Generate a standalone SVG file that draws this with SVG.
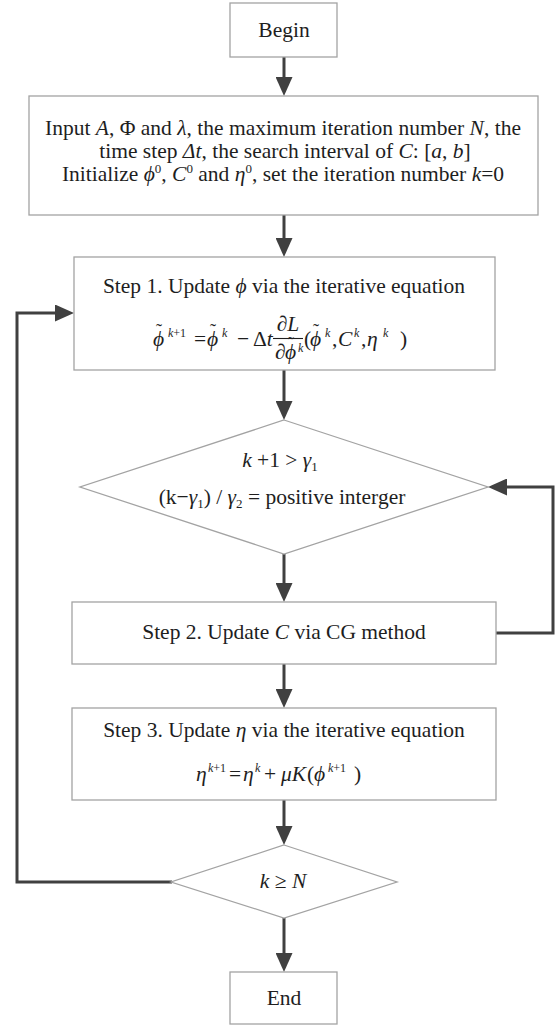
<svg xmlns="http://www.w3.org/2000/svg" width="558" height="1026" viewBox="0 0 558 1026">
<defs>
<style>
.box{fill:#ffffff;stroke:#a3a3a3;stroke-width:1.3}
.conn{fill:none;stroke:#404040;stroke-width:3}
text{font-family:"Liberation Serif","Times New Roman","DejaVu Serif",serif;font-size:21.5px;fill:#1e1e1e}
.i{font-style:italic}
.s{font-size:13px}
.e{font-size:12px}
.t{font-size:18px}
.m{text-anchor:middle}
.bar{stroke:#1e1e1e;stroke-width:1.1}
</style>
<marker id="ah" markerUnits="userSpaceOnUse" markerWidth="19" markerHeight="17" refX="9" refY="8.5" orient="auto">
<path d="M0,0 L19,8.5 L0,17 Z" fill="#404040"/>
</marker>
</defs>
<rect width="558" height="1026" fill="#ffffff"/>

<g id="connectors">
<path class="conn" d="M284,57 V86" marker-end="url(#ah)"/>
<path class="conn" d="M284,215 V247" marker-end="url(#ah)"/>
<path class="conn" d="M284,370 V410" marker-end="url(#ah)"/>
<path class="conn" d="M284,554 V592" marker-end="url(#ah)"/>
<path class="conn" d="M284,664 V698" marker-end="url(#ah)"/>
<path class="conn" d="M284,800 V835" marker-end="url(#ah)"/>
<path class="conn" d="M284,918 V962" marker-end="url(#ah)"/>
<path class="conn" d="M496,633 H553 V487 H498" marker-end="url(#ah)"/>
<path class="conn" d="M172,882 H17 V313 H64" marker-end="url(#ah)"/>
</g>

<g id="begin">
<rect class="box" x="230" y="3" width="107" height="54"/>
<text class="m" x="284" y="37">Begin</text>
</g>

<g id="input">
<rect class="box" x="29" y="96" width="509" height="119"/>
<text class="m" x="283" y="135">Input <tspan class="i">A</tspan>, Φ and <tspan class="i">λ</tspan>, the maximum iteration number <tspan class="i">N</tspan>, the</text>
<text class="m" x="285" y="158">time step <tspan class="i">Δt</tspan>, the search interval of <tspan class="i">C</tspan>: [<tspan class="i">a</tspan>, <tspan class="i">b</tspan>]</text>
<text class="m" x="283" y="181">Initialize <tspan class="i">ϕ</tspan><tspan class="s" dy="-8">0</tspan><tspan dy="8">, </tspan><tspan class="i">C</tspan><tspan class="s" dy="-8">0</tspan><tspan dy="8"> and </tspan><tspan class="i">η</tspan><tspan class="s" dy="-8">0</tspan><tspan dy="8">, set the iteration number </tspan><tspan class="i">k</tspan>=0</text>
</g>

<g id="step1">
<rect class="box" x="74" y="257" width="421" height="113"/>
<text class="m" x="284" y="293">Step 1.  Update <tspan class="i">ϕ</tspan> via the iterative equation</text>
<text y="346"><tspan class="i" x="153">ϕ</tspan><tspan class="t" x="156" y="337">˜</tspan><tspan class="e" x="168" y="337"><tspan class="i">k</tspan>+1</tspan><tspan x="194" y="346">=</tspan><tspan class="i" x="207">ϕ</tspan><tspan class="t" x="210" y="337">˜</tspan><tspan class="e i" x="222" y="337">k</tspan><tspan x="237" y="346">−</tspan><tspan x="253">Δ</tspan><tspan class="i">t</tspan></text>
<text class="m" x="288" y="331">∂<tspan class="i">L</tspan></text>
<line class="bar" x1="273" y1="338.5" x2="303" y2="338.5"/>
<text y="359"><tspan x="275">∂</tspan><tspan class="i" x="285">ϕ</tspan><tspan class="t" x="288" y="350">˜</tspan><tspan class="e i" x="298" y="352">k</tspan></text>
<text y="346"><tspan x="304">(</tspan><tspan class="i" x="310">ϕ</tspan><tspan class="t" x="313" y="337">˜</tspan><tspan class="e i" x="325" y="337">k</tspan><tspan x="332" y="346">,</tspan><tspan class="i" x="338">C</tspan><tspan class="e i" x="354" y="337">k</tspan><tspan x="361" y="346">,</tspan><tspan class="i" x="367">η</tspan><tspan class="e i" x="383" y="337">k</tspan><tspan x="400" y="346">)</tspan></text>
</g>

<g id="cond1">
<path class="box" d="M284,420 L488,487 L284,554 L80,487 Z"/>
<text class="m" x="280" y="467"><tspan class="i">k</tspan> +1 &gt; <tspan class="i">γ</tspan><tspan class="s" dy="4">1</tspan></text>
<text class="m" x="282" y="504">(k−<tspan class="i">γ</tspan><tspan class="s" dy="4">1</tspan><tspan dy="-4">) / </tspan><tspan class="i">γ</tspan><tspan class="s" dy="4">2</tspan><tspan dy="-4"> = positive  interger</tspan></text>
</g>

<g id="step2">
<rect class="box" x="72" y="602" width="424" height="62"/>
<text class="m" x="284" y="639">Step 2.  Update <tspan class="i">C</tspan> via CG method</text>
</g>

<g id="step3">
<rect class="box" x="72" y="708" width="424" height="92"/>
<text class="m" x="284" y="737">Step 3.  Update <tspan class="i">η</tspan> via the iterative equation</text>
<text y="781"><tspan class="i" x="196">η</tspan><tspan class="e" x="208" y="772"><tspan class="i">k</tspan>+1</tspan><tspan x="229" y="781">=</tspan><tspan class="i" x="243">η</tspan><tspan class="e i" x="255" y="772">k</tspan><tspan x="264" y="781">+</tspan><tspan class="i" x="281">μK</tspan><tspan x="307">(</tspan><tspan class="i" x="314">ϕ</tspan><tspan class="e" x="328" y="772"><tspan class="i">k</tspan>+1</tspan><tspan x="354" y="781">)</tspan></text>
</g>

<g id="cond2">
<path class="box" d="M284,845 L397,882 L284,918 L171,882 Z"/>
<text class="m" x="283" y="888"><tspan class="i">k</tspan> ≥ <tspan class="i">N</tspan></text>
</g>

<g id="end">
<rect class="box" x="230" y="972" width="107" height="52"/>
<text class="m" x="284" y="1005">End</text>
</g>
</svg>
